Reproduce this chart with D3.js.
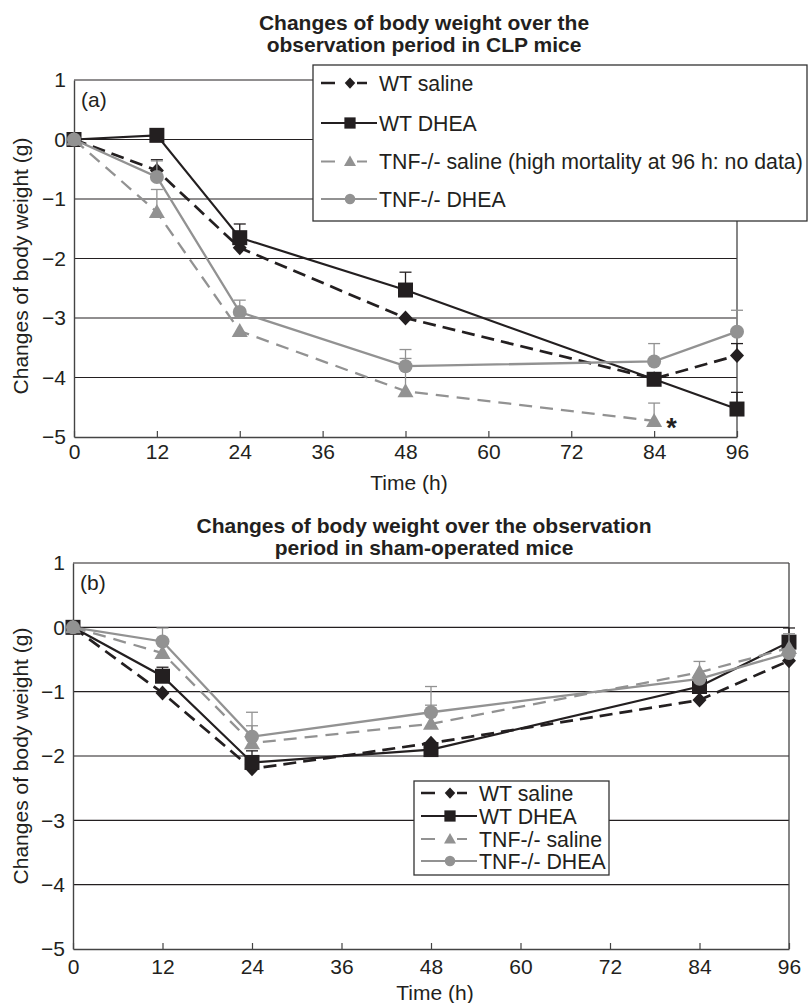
<!DOCTYPE html>
<html>
<head>
<meta charset="utf-8">
<script src="https://cdn.jsdelivr.net/npm/d3@7"></script>
<style>
  body { margin: 0; background: #fff; }
  svg { display: block; }
  text { font-family: "Liberation Sans", Arial, Helvetica, sans-serif; fill: #231f20; }
</style>
</head>
<body>
<svg id="chart" width="808" height="1003"></svg>
<script>
// time points (h) and axis ticks
var times = [0, 12, 24, 48, 84, 96];
var xTicks = [0, 12, 24, 36, 48, 60, 72, 84, 96];
var yTicks = [-5, -4, -3, -2, -1, 0, 1];

var seriesNames = ["WT saline", "WT DHEA", "TNF-/- saline", "TNF-/- DHEA"];

// panel (a) CLP mice, mean change (g) and upper error bar
var clpWtSaline     = [0, -0.52, -1.82, -3.00, -4.02, -3.63];
var clpWtSalineErr  = [null, 0.18, null, null, null, 0.20];
var clpWtDhea       = [0, 0.07, -1.65, -2.53, -4.03, -4.53];
var clpWtDheaErr    = [null, null, 0.23, 0.30, null, 0.28];
var clpTnfSaline    = [0, -1.22, -3.22, -4.23, -4.73, null];
var clpTnfSalineErr = [null, 0.38, null, 0.55, 0.30, null];
var clpTnfDhea      = [0, -0.63, -2.90, -3.81, -3.73, -3.23];
var clpTnfDheaErr   = [null, 0.27, 0.20, 0.28, 0.30, 0.36];

// panel (b) sham-operated mice
var shamWtSaline     = [0, -1.02, -2.20, -1.80, -1.13, -0.52];
var shamWtSalineErr  = [null, null, null, null, null, null];
var shamWtDhea       = [0, -0.76, -2.10, -1.90, -0.92, -0.23];
var shamWtDheaErr    = [null, 0.14, 0.18, null, null, 0.22];
var shamTnfSaline    = [0, -0.40, -1.80, -1.50, -0.70, -0.32];
var shamTnfSalineErr = [null, null, 0.27, 0.29, null, 0.22];
var shamTnfDhea      = [0, -0.22, -1.70, -1.32, -0.80, -0.40];
var shamTnfDheaErr   = [null, 0.21, 0.38, 0.40, 0.27, null];

var BLACK = "#231f20", GRAY = "#929292";

var styles = [
    { color: BLACK, dash: "13,7", width: 2.7, shape: "diamond" },
    { color: BLACK, dash: null,   width: 2.2, shape: "square" },
    { color: GRAY,  dash: "13,8", width: 2.3, shape: "triangle" },
    { color: GRAY,  dash: null,   width: 2.3, shape: "circle" }
];

function markerPath(shape, s) {
    if (shape === "diamond") return "M0," + (-7.5 * s) + "L" + (7 * s) + ",0L0," + (7.5 * s) + "L" + (-7 * s) + ",0Z";
    if (shape === "square") return "M" + (-7.5 * s) + "," + (-7.5 * s) + "h" + (15 * s) + "v" + (15 * s) + "h" + (-15 * s) + "Z";
    if (shape === "triangle") return "M0," + (-8 * s) + "L" + (8 * s) + "," + (6 * s) + "L" + (-8 * s) + "," + (6 * s) + "Z";
    var r = 7 * s;
    return "M" + r + ",0A" + r + "," + r + " 0 1,1 " + (-r) + ",0A" + r + "," + r + " 0 1,1 " + r + ",0Z";
}

var svg = d3.select("#chart");

function drawPanel(p) {
    var g = svg.append("g");
    var x = d3.scaleLinear().domain([0, 96]).range([p.left, p.right]);
    var y = d3.scaleLinear().domain([-5, 1]).range([p.bottom, p.top]);

    // horizontal grid lines
    g.selectAll(".grid").data(yTicks.filter(function(t) { return t > -5; }))
        .enter().append("line")
        .attr("x1", p.left).attr("x2", p.right)
        .attr("y1", function(d) { return y(d); }).attr("y2", function(d) { return y(d); })
        .attr("stroke", BLACK).attr("stroke-width", 1.1);

    // right border
    g.append("line")
        .attr("x1", p.right).attr("x2", p.right)
        .attr("y1", p.top).attr("y2", p.bottom)
        .attr("stroke", "#444").attr("stroke-width", 1.3);

    var xAxis = g.append("g")
        .attr("transform", "translate(0," + p.bottom + ")")
        .call(d3.axisBottom(x).tickValues(xTicks).tickSize(-6).tickSizeOuter(0).tickPadding(p.xPad));
    var yAxis = g.append("g")
        .attr("transform", "translate(" + p.left + ",0)")
        .call(d3.axisLeft(y).tickValues(yTicks).tickFormat(d3.format("d")).tickSize(0).tickPadding(8));

    [xAxis, yAxis].forEach(function(a) {
        a.select(".domain").attr("stroke", "#444").attr("stroke-width", 1.4);
        a.selectAll(".tick line").attr("stroke", "#444").attr("stroke-width", 1.2);
        a.selectAll("text").attr("font-size", 21).attr("fill", BLACK)
            .style("font-family", "'Liberation Sans', Arial, sans-serif");
    });
    yAxis.selectAll(".tick line").remove();

    // titles and labels
    p.title.forEach(function(t, i) {
        g.append("text").attr("x", 424).attr("y", p.titleY + i * 21.5)
            .attr("text-anchor", "middle").attr("font-size", 21).attr("font-weight", "bold").text(t);
    });
    g.append("text").attr("x", p.left + 7).attr("y", p.top + 27).attr("font-size", 21).text(p.tag);
    g.append("text").attr("x", p.xLabelX).attr("y", p.xLabelY)
        .attr("text-anchor", "middle").attr("font-size", 21).text("Time (h)");
    g.append("text")
        .attr("transform", "translate(28," + p.yLabelY + ") rotate(-90)")
        .attr("text-anchor", "middle").attr("font-size", 21).text("Changes of body weight (g)");

    var line = d3.line()
        .defined(function(d) { return d[1] != null; })
        .x(function(d) { return x(d[0]); })
        .y(function(d) { return y(d[1]); });

    p.values.forEach(function(vals, si) {
        var st = styles[si];
        var pts = times.map(function(t, i) { return [t, vals[i], p.errors[si][i]]; });

        // upper error bars
        var eb = g.append("g").attr("stroke", st.color).attr("stroke-width", 1.3);
        pts.filter(function(d) { return d[1] != null && d[2] != null; }).forEach(function(d) {
            eb.append("line").attr("x1", x(d[0])).attr("x2", x(d[0]))
                .attr("y1", y(d[1])).attr("y2", y(d[1] + d[2]));
            eb.append("line").attr("x1", x(d[0]) - 6).attr("x2", x(d[0]) + 6)
                .attr("y1", y(d[1] + d[2])).attr("y2", y(d[1] + d[2]));
        });

        g.append("path").datum(pts)
            .attr("d", line)
            .attr("fill", "none")
            .attr("stroke", st.color)
            .attr("stroke-width", st.width)
            .attr("stroke-dasharray", st.dash);

        g.selectAll(null).data(pts.filter(function(d) { return d[1] != null; }))
            .enter().append("path")
            .attr("transform", function(d) { return "translate(" + x(d[0]) + "," + y(d[1]) + ")"; })
            .attr("d", markerPath(st.shape, 1))
            .attr("fill", st.color);
    });

    if (p.star) {
        var sv = p.values[p.star.series][p.star.index];
        g.append("text").attr("x", x(times[p.star.index]) + 12).attr("y", y(sv) + 16)
            .attr("font-size", 27).attr("font-weight", "bold").text("*");
    }

    // legend
    var L = p.legend;
    var lg = g.append("g");
    lg.append("rect").attr("x", L.x).attr("y", L.y).attr("width", L.w).attr("height", L.h)
        .attr("fill", "#fff").attr("stroke", "#333").attr("stroke-width", 1.3);
    L.labels.forEach(function(lab, i) {
        var st = styles[i];
        var cy = L.rows[i];
        lg.append("line").attr("x1", L.lineX).attr("x2", st.dash ? L.lineX + 46 : L.lineX + 56)
            .attr("y1", cy).attr("y2", cy)
            .attr("stroke", st.color).attr("stroke-width", st.width - 0.3)
            .attr("stroke-dasharray", st.dash ? "14,22,12" : null);
        lg.append("path").attr("transform", "translate(" + (L.lineX + 29) + "," + cy + ")")
            .attr("d", markerPath(st.shape, 0.75)).attr("fill", st.color);
        lg.append("text").attr("x", L.lineX + 58).attr("y", cy + 7.5)
            .attr("font-size", 21.3).text(lab);
    });
}

drawPanel({
    left: 74, right: 737, top: 80, bottom: 437, xPad: 7,
    title: ["Changes of body weight over the", "observation period in CLP mice"], titleY: 30,
    tag: "(a)", xLabelX: 409, xLabelY: 490, yLabelY: 266,
    values: [clpWtSaline, clpWtDhea, clpTnfSaline, clpTnfDhea],
    errors: [clpWtSalineErr, clpWtDheaErr, clpTnfSalineErr, clpTnfDheaErr],
    star: { series: 2, index: 4 },
    legend: {
        x: 313, y: 65, w: 494, h: 156, lineX: 321, rows: [83, 123, 161.5, 199],
        labels: ["WT saline", "WT DHEA", "TNF-/- saline (high mortality at 96 h: no data)", "TNF-/- DHEA"]
    }
});

drawPanel({
    left: 73, right: 789, top: 563, bottom: 949, xPad: 10,
    title: ["Changes of body weight over the observation", "period in sham-operated mice"], titleY: 533,
    tag: "(b)", xLabelX: 435, xLabelY: 1000, yLabelY: 756,
    values: [shamWtSaline, shamWtDhea, shamTnfSaline, shamTnfDhea],
    errors: [shamWtSalineErr, shamWtDheaErr, shamTnfSalineErr, shamTnfDheaErr],
    star: null,
    legend: {
        x: 414, y: 781, w: 195, h: 94, lineX: 421, rows: [793, 816, 839, 861],
        labels: seriesNames
    }
});
</script>
</body>
</html>
